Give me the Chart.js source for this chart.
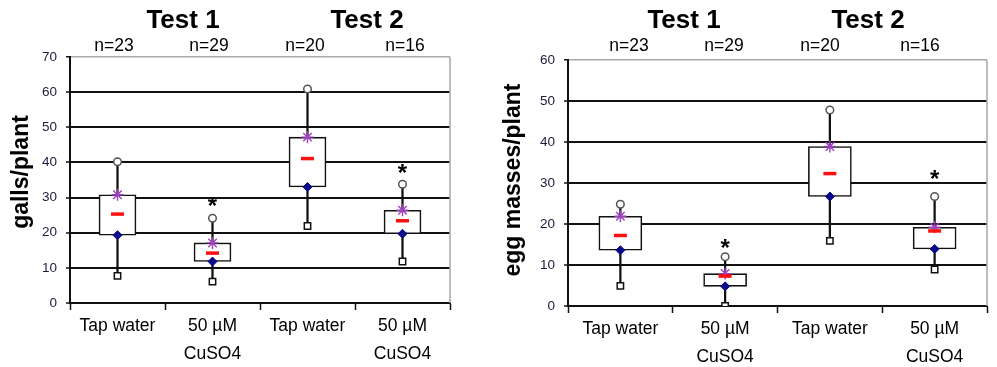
<!DOCTYPE html>
<html><head><meta charset="utf-8">
<script src="https://cdn.jsdelivr.net/npm/chart.js@4.4.1/dist/chart.umd.min.js"></script>
<style>
html,body{margin:0;padding:0;background:#fff;}
#wrap{position:relative;width:997px;height:367px;overflow:hidden;background:#fff;}
#c1{position:absolute;left:0;top:0;}
#c2{position:absolute;left:497px;top:0;}
</style></head><body>
<div id="wrap"><canvas id="c1" width="497" height="367"></canvas><canvas id="c2" width="500" height="367"></canvas></div>
<script>
// ---- data ----
const categories = [['Tap water'], ['50 µM', 'CuSO4'], ['Tap water'], ['50 µM', 'CuSO4']];
const nLabels = ['n=23', 'n=29', 'n=20', 'n=16'];
const testTitles = ['Test 1', 'Test 2'];

// galls/plant
const gallsMin    = [7.7, 6.1, 21.9, 11.8];
const gallsQ1     = [19.3, 11.8, 33.0, 19.7];
const gallsMedian = [25.3, 14.2, 41.1, 23.4];
const gallsQ3     = [30.8, 17.1, 47.2, 26.4];
const gallsMax    = [40.2, 24.1, 60.9, 33.8];
const gallsSig    = [null, 28.9, null, 38.4];

// egg masses/plant
const eggsMin    = [4.9, 0.0, 15.9, 8.9];
const eggsQ1     = [13.6, 4.8, 26.7, 13.9];
const eggsMedian = [17.2, 7.3, 32.3, 18.3];
const eggsQ3     = [21.9, 7.9, 38.9, 19.2];
const eggsMax    = [24.8, 12.0, 47.8, 26.7];
const eggsSig    = [null, 15.2, null, 32.1];

const SANS = "'Liberation Sans', Arial, sans-serif";

function makeChart(canvas, o) {
  const pairs = (a, b) => a.map((v, i) => [v, b[i]]);
  const overlay = {
    id: 'overlay',
    afterDatasetsDraw(chart) {
      const ctx = chart.ctx, ca = chart.chartArea;
      const xs = chart.scales.x, ys = chart.scales.y;
      ctx.save();
      // right frame line
      ctx.strokeStyle = '#a8a8a8';
      ctx.lineWidth = 1.5;
      ctx.beginPath();
      ctx.moveTo(ca.right, ca.top);
      ctx.lineTo(ca.right, ca.bottom);
      ctx.stroke();
      // significance asterisks
      ctx.fillStyle = '#000';
      ctx.font = 'bold 24px ' + SANS;
      ctx.textAlign = 'center';
      ctx.textBaseline = 'alphabetic';
      o.sig.forEach((v, i) => {
        if (v === null) return;
        ctx.fillText('*', xs.getPixelForValue(i), ys.getPixelForValue(v) + 12.5);
      });
      ctx.restore();
    },
    afterDraw(chart) {
      const ctx = chart.ctx;
      ctx.save();
      ctx.fillStyle = '#000';
      ctx.textAlign = 'center';
      ctx.textBaseline = 'alphabetic';
      ctx.font = 'bold 26px ' + SANS;
      testTitles.forEach((t, i) => ctx.fillText(t, o.testX[i], 28));
      ctx.font = '17.5px ' + SANS;
      nLabels.forEach((t, i) => ctx.fillText(t, o.nX[i], 51));
      // y title
      ctx.translate(o.titleX, o.titleY);
      ctx.rotate(-Math.PI / 2);
      ctx.font = 'bold 23px ' + SANS;
      ctx.textBaseline = 'middle';
      ctx.fillText(o.yTitle, 0, 0);
      ctx.restore();
    }
  };
  return new Chart(canvas, {
    type: 'bar',
    data: {
      labels: categories,
      datasets: [
        { type: 'line', data: o.median, showLine: false, pointStyle: 'line', pointRadius: 6.5,
          pointBorderColor: '#ff1010', pointBorderWidth: 3.5, order: 0 },
        { type: 'line', data: o.q3, showLine: false, pointStyle: 'star', pointRadius: 6,
          pointBorderColor: '#a040c0', pointBorderWidth: 1.4, order: 1 },
        { type: 'line', data: o.q1, showLine: false, pointStyle: 'rectRot', pointRadius: 4.5,
          pointBackgroundColor: '#0a0a8a', pointBorderColor: '#0a0a8a', pointBorderWidth: 1, order: 1 },
        { type: 'line', data: o.max, showLine: false, pointStyle: 'circle', pointRadius: 3.8,
          pointBackgroundColor: '#fff', pointBorderColor: '#555', pointBorderWidth: 1.5, order: 1 },
        { type: 'line', data: o.min, showLine: false, pointStyle: 'rect', pointRadius: 4.5,
          pointBackgroundColor: '#fff', pointBorderColor: '#111', pointBorderWidth: 1.5, order: 1 },
        { data: pairs(o.q1, o.q3), grouped: false, barThickness: o.boxW, backgroundColor: '#fff',
          borderColor: '#111', borderWidth: 1.6, borderSkipped: false, order: 4 },
        { data: pairs(o.min, o.max), grouped: false, barThickness: 1.6, backgroundColor: '#111',
          borderWidth: 0, order: 5 }
      ]
    },
    options: {
      responsive: false,
      animation: false,
      devicePixelRatio: 1,
      layout: { padding: { left: 0, top: o.padTop, right: o.padRight, bottom: 0 } },
      plugins: { legend: { display: false }, tooltip: { enabled: false } },
      scales: {
        x: {
          afterFit: s => { s.height = o.xH; },
          grid: { display: true, drawOnChartArea: false, offset: true, tickLength: 7,
                  tickColor: '#111', tickWidth: 1.5 },
          border: { display: true, color: '#111', width: 2 },
          ticks: { color: '#000', font: { family: SANS, size: 17.5, lineHeight: 1.55 },
                   maxRotation: 0, autoSkip: false, padding: 3 }
        },
        y: {
          min: 0, max: o.yMax,
          afterFit: s => { s.width = o.yW; },
          grid: { color: c => (c.tick && c.tick.value === o.yMax) ? '#a8a8a8' : '#111',
                  lineWidth: c => (c.tick && c.tick.value === o.yMax) ? 1.5 : 2,
                  tickLength: 4, tickColor: '#111', tickWidth: 1.5 },
          border: { display: true, color: '#111', width: 2 },
          ticks: { stepSize: 10, color: '#1c1c3c', padding: 9,
                   font: { family: SANS, size: 13.5 } }
        }
      }
    },
    plugins: [overlay]
  });
}

makeChart(document.getElementById('c1'), {
  min: gallsMin, q1: gallsQ1, median: gallsMedian, q3: gallsQ3, max: gallsMax, sig: gallsSig,
  yMax: 70, yTitle: 'galls/plant', boxW: 37,
  padTop: 57, padRight: 47, xH: 64, yW: 70,
  testX: [183, 367], nX: [114, 209, 305, 405], titleX: 22, titleY: 172
});
makeChart(document.getElementById('c2'), {
  min: eggsMin, q1: eggsQ1, median: eggsMedian, q3: eggsQ3, max: eggsMax, sig: eggsSig,
  yMax: 60, yTitle: 'egg masses/plant', boxW: 43,
  padTop: 60, padRight: 1, xH: 61, yW: 71,
  testX: [187, 371], nX: [132, 227, 323, 423], titleX: 17, titleY: 180
});
</script>
</body></html>
